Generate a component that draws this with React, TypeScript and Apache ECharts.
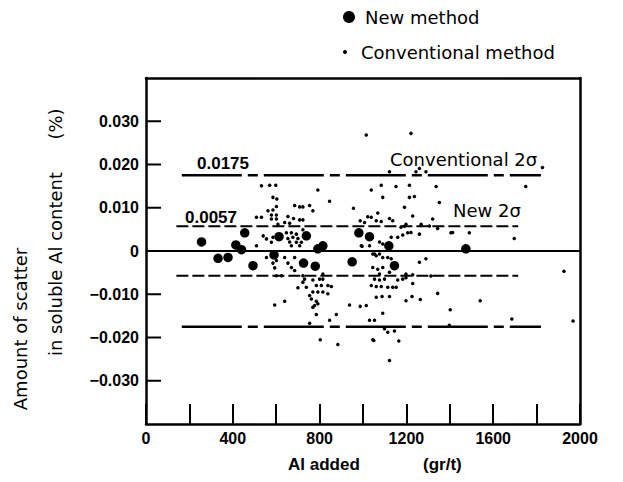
import React, { useEffect, useRef } from "react";
import * as echarts from "echarts";

// ---------- data ----------
const newMethod: [number, number][] = [
  [256, 0.0021], [332, -0.0017], [378, -0.0015], [414, 0.0014], [440, 0.0003],
  [455, 0.0042], [493, -0.0034], [590, -0.0009], [613, 0.0033], [739, 0.0035],
  [726, -0.0028], [780, -0.0035], [792, 0.0005], [815, 0.0012], [950, -0.0025],
  [981, 0.0042], [1030, 0.0033], [1119, 0.0012], [1145, -0.0034], [1474, 0.0005],
];

const conventionalMethod: [number, number][] = [
  // upper region
  [570, 0.0152], [598, 0.0152], [532, 0.0151], [792, 0.0141], [846, 0.0115],
  [1015, 0.0268], [1221, 0.0272], [1260, 0.0191], [1244, 0.0183], [1290, 0.0183],
  [1122, 0.0183], [1084, 0.0152], [1152, 0.0149], [1214, 0.0152], [1337, 0.0149],
  [1038, 0.0141], [1827, 0.0193], [1750, 0.0149], [585, 0.0124], [603, 0.012],
  [1091, 0.0124], [1214, 0.0124], [1237, 0.0126],
  // mid positive
  [601, 0.0103], [685, 0.0105], [708, 0.0102], [723, 0.0102], [754, 0.0105],
  [769, 0.0093], [562, 0.0093], [585, 0.0095], [956, 0.0099], [1352, 0.0112],
  [1191, 0.0101], [578, 0.0083], [601, 0.0083], [578, 0.0074], [601, 0.0074],
  [654, 0.008], [680, 0.0075], [708, 0.0072], [723, 0.0072], [639, 0.0066],
  [662, 0.0064], [608, 0.0062], [1022, 0.0079], [1007, 0.0066], [987, 0.007],
  [1068, 0.0088], [1229, 0.0081], [1038, 0.0078], [1122, 0.0075], [1137, 0.007],
  [1061, 0.007], [1084, 0.0068], [1321, 0.0074], [1268, 0.0062], [1306, 0.0058],
  [1198, 0.0062], [1344, 0.0052], [1175, 0.0055], [1191, 0.0057], [509, 0.0078],
  [532, 0.0078],
  // near zero, positive
  [647, 0.0042], [670, 0.0042], [693, 0.0039], [723, 0.0049], [585, 0.0032],
  [654, 0.0029], [677, 0.0032], [700, 0.0029], [662, 0.0021], [693, 0.002],
  [716, 0.002], [670, 0.0012], [708, 0.0012], [992, 0.0012], [578, 0.002],
  [540, 0.0035], [555, 0.0028], [509, 0.0012], [1221, 0.0043], [1260, 0.0039],
  [1130, 0.0032], [1160, 0.0032], [1183, 0.0037], [1206, 0.0042], [1413, 0.0043],
  [1405, 0.0042], [1490, 0.0042], [1697, 0.0029], [1076, 0.0021], [1091, 0.0016],
  [1030, 0.0012], [996, 0.0011],
  // near zero, negative
  [1045, -0.0007], [1061, -0.0011], [1053, -0.0007], [1076, -0.0007], [1091, -0.0015],
  [1114, -0.0015], [1130, -0.0018], [1260, -0.0026], [1290, -0.0018], [555, -0.0015],
  [601, -0.0022], [639, -0.0015], [685, -0.0015], [585, -0.0028], [593, -0.0039],
  [654, -0.0028], [670, -0.0038], [685, -0.0045], [1045, -0.0038], [1068, -0.0042],
  [1091, -0.0038], [1122, -0.0049], [1076, -0.0053], [1313, -0.0058], [1198, -0.0053],
  [1229, -0.0055], [1926, -0.0047],
  // lower region
  [601, -0.0057], [624, -0.0057], [723, -0.0057], [731, -0.0065], [723, -0.0072],
  [815, -0.0053], [815, -0.0065], [769, -0.0067], [800, -0.0065], [739, -0.0084],
  [785, -0.008], [808, -0.008], [838, -0.008], [854, -0.0082], [700, -0.0085],
  [769, -0.0095], [792, -0.0095], [815, -0.0095], [754, -0.0103], [838, -0.0099],
  [762, -0.0111], [785, -0.0116], [792, -0.0122], [777, -0.0126], [769, -0.013],
  [593, -0.0125], [639, -0.0116], [785, -0.0147], [877, -0.0147], [846, -0.016],
  [938, -0.0125], [987, -0.0128], [1015, -0.0126], [754, -0.0167], [803, -0.0205],
  [884, -0.0216],
  [1053, -0.0065], [1076, -0.0067], [1099, -0.0065], [1160, -0.0067], [1183, -0.0065],
  [1198, -0.0062], [1229, -0.0075], [1038, -0.008], [1061, -0.0082], [1084, -0.0082],
  [1114, -0.0084], [1137, -0.0084], [1153, -0.0084], [1061, -0.0107], [1088, -0.0105],
  [1122, -0.0105], [1198, -0.0115], [1226, -0.0105], [1264, -0.0112], [1344, -0.0098],
  [1540, -0.0115], [1402, -0.0136], [1091, -0.0144], [1030, -0.016], [1053, -0.016],
  [1686, -0.0157], [1398, -0.0172], [1099, -0.018], [1114, -0.0188], [1145, -0.0185],
  [1050, -0.0207], [1165, -0.0208], [1122, -0.0253], [1968, -0.0162], [1045, -0.0205],
];

const conventional2Sigma = 0.0175;
const new2Sigma = 0.0057;
const conventionalLineSpan = [165, 1820];
const newLineSpan = [140, 1715];
const xRange = [0, 2000];
const yRange = [-0.04, 0.04];
const yTickValues = [-0.03, -0.02, -0.01, 0, 0.01, 0.02, 0.03];

const NUM_FONT = "'Liberation Sans', Arial, sans-serif";
const TXT_FONT = "'DejaVu Sans', sans-serif";

function refLine(name: string, y: number, span: number[], type: any, width: number) {
  return {
    name,
    type: "line",
    data: [[span[0], y], [span[1], y]],
    symbol: "none",
    silent: true,
    lineStyle: { color: "#000", width, type },
  };
}

export default function App() {
  const ref = useRef<HTMLDivElement>(null);
  useEffect(() => {
    const chart = echarts.init(ref.current!, null, { renderer: "svg" });
    const legendBase = {
      orient: "vertical",
      left: 343,
      padding: 0,
      itemWidth: 22,
      icon: "circle",
      selectedMode: false,
      textStyle: { fontFamily: TXT_FONT, fontSize: 18, color: "#000" },
    };
    const mkLine = () => ({ show: true, onZero: false, lineStyle: { color: "#000", width: 2.5 } });
    const borderAxis = {
      type: "value",
      splitLine: { show: false },
      axisLine: mkLine(),
      axisTick: { show: false },
      axisLabel: { show: false },
    };
    chart.setOption({
      animation: false,
      grid: { left: 146, right: 43, top: 78, bottom: 58, show: false },
      legend: [
        { ...legendBase, top: 8, itemHeight: 12, data: ["New method"] },
        { ...legendBase, top: 43, itemHeight: 4, data: ["Conventional method"] },
      ],
      xAxis: [
        {
          type: "value",
          position: "bottom",
          min: xRange[0],
          max: xRange[1],
          interval: 200,
          splitLine: { show: false },
          axisLine: mkLine(),
          axisTick: { show: true, inside: true, length: 20, lineStyle: { color: "#000", width: 2 } },
          axisLabel: {
            margin: 6,
            color: "#000",
            fontFamily: NUM_FONT,
            fontWeight: "bold",
            fontSize: 16,
            formatter: (v: number) => (v % 400 === 0 ? String(v) : ""),
          },
        },
        { ...borderAxis, position: "top", min: xRange[0], max: xRange[1] },
      ],
      yAxis: [
        {
          type: "value",
          position: "left",
          min: yRange[0],
          max: yRange[1],
          interval: 0.01,
          splitLine: { show: false },
          axisLine: mkLine(),
          axisTick: { show: false },
          axisLabel: {
            margin: 7,
            color: "#000",
            fontFamily: NUM_FONT,
            fontWeight: "bold",
            fontSize: 16,
            formatter: (v: number) => {
              if (Math.abs(v) > 0.035) return "";
              if (Math.abs(v) < 1e-9) return "0";
              return (v < 0 ? "\u2212" : "") + Math.abs(v).toFixed(3);
            },
          },
        },
        { ...borderAxis, position: "right", min: yRange[0], max: yRange[1] },
      ],
      series: [
        refLine("zero", 0, xRange, "solid", 2),
        refLine("conv+", conventional2Sigma, conventionalLineSpan, [60, 6, 10, 6], 2.5),
        refLine("conv-", -conventional2Sigma, conventionalLineSpan, [60, 6, 10, 6], 2.5),
        refLine("new+", new2Sigma, newLineSpan, [12, 4], 2),
        refLine("new-", -new2Sigma, newLineSpan, [12, 4], 2),
        {
          name: "yTicks",
          type: "custom",
          silent: true,
          clip: false,
          encode: { x: 0, y: 1 },
          data: yTickValues.map((v) => [xRange[0], v]),
          renderItem: (_params: any, api: any) => {
            const p = api.coord([xRange[0], api.value(1)]);
            return {
              type: "line",
              shape: { x1: p[0], y1: p[1], x2: p[0] + 15, y2: p[1] },
              style: { stroke: "#000", lineWidth: 2 },
            };
          },
          z: 5,
        },
        {
          name: "Conventional method",
          type: "scatter",
          data: conventionalMethod,
          symbol: "circle",
          symbolSize: 3.5,
          itemStyle: { color: "#000", opacity: 1 },
          z: 3,
        },
        {
          name: "New method",
          type: "scatter",
          data: newMethod,
          symbol: "circle",
          symbolSize: 9.5,
          itemStyle: { color: "#000", opacity: 1 },
          z: 4,
        },
      ],
      graphic: [
        {
          type: "text", x: 197, y: 163,
          style: { text: "0.0175", font: `bold 17px ${NUM_FONT}`, fill: "#000", textVerticalAlign: "middle" },
        },
        {
          type: "text", x: 185, y: 217,
          style: { text: "0.0057", font: `bold 17px ${NUM_FONT}`, fill: "#000", textVerticalAlign: "middle" },
        },
        {
          type: "text", x: 390, y: 159,
          style: { text: "Conventional 2σ", font: `18px ${TXT_FONT}`, fill: "#000", textVerticalAlign: "middle" },
        },
        {
          type: "text", x: 453, y: 210,
          style: { text: "New 2σ", font: `18px ${TXT_FONT}`, fill: "#000", textVerticalAlign: "middle" },
        },
        {
          type: "text", x: 288, y: 464,
          style: { text: "Al added", font: `bold 17px ${NUM_FONT}`, fill: "#000", textVerticalAlign: "middle" },
        },
        {
          type: "text", x: 423, y: 464,
          style: { text: "(gr/t)", font: `bold 17px ${NUM_FONT}`, fill: "#000", textVerticalAlign: "middle" },
        },
        {
          type: "text", x: 20, y: 329, rotation: Math.PI / 2,
          style: { text: "Amount of scatter", font: `18px ${TXT_FONT}`, fill: "#000", textAlign: "center", textVerticalAlign: "middle" },
        },
        {
          type: "text", x: 55, y: 264, rotation: Math.PI / 2,
          style: { text: "in soluble Al content", font: `18px ${TXT_FONT}`, fill: "#000", textAlign: "center", textVerticalAlign: "middle" },
        },
        {
          type: "text", x: 55, y: 124, rotation: Math.PI / 2,
          style: { text: "(%)", font: `18px ${TXT_FONT}`, fill: "#000", textAlign: "center", textVerticalAlign: "middle" },
        },
      ],
    });
    return () => chart.dispose();
  }, []);
  return (
    <div
      ref={ref}
      style={{ position: "fixed", left: 0, top: 0, width: 623, height: 482, background: "#fff" }}
    />
  );
}
